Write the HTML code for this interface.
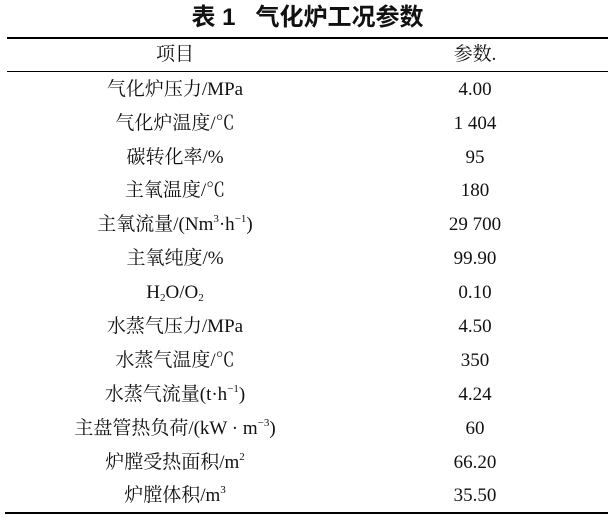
<!DOCTYPE html>
<html><head><meta charset="utf-8"><style>
body{margin:0;width:615px;height:523px;background:#fff;position:relative;font-family:"Liberation Serif","Noto Serif CJK SC","Noto Sans CJK SC",serif;color:#111;overflow:hidden}
.t{position:absolute;left:0;width:615px;top:3px;text-align:center;font:bold 24px "Liberation Sans","Noto Sans CJK SC",sans-serif;line-height:30px}
.l{position:absolute;left:7px;width:601px;background:#000}
.r{position:absolute;left:0;width:615px;height:24px;font-size:19px;line-height:24px}
.a{position:absolute;left:25px;width:300px;text-align:center;white-space:nowrap}
.b{position:absolute;left:400px;width:150px;text-align:center;white-space:nowrap}
sup{font-size:11px;vertical-align:8px;line-height:0}
sub{font-size:11px;vertical-align:-3px;line-height:0}
</style></head><body>
<div class="t">表 1&nbsp;&nbsp;&nbsp;气化炉工况参数</div>
<div class="l" style="top:37px;height:2px"></div>
<div class="l" style="top:71px;height:1px"></div>
<div class="l" style="top:512px;height:2px;left:5px;width:603px"></div>
<div class="r" style="top:43px"><div class="a">项目</div><div class="b">参数.</div></div>
<div class="r" style="top:78px"><div class="a">气化炉压力/MPa</div><div class="b">4.00</div></div>
<div class="r" style="top:112px"><div class="a">气化炉温度/℃</div><div class="b">1 404</div></div>
<div class="r" style="top:146px"><div class="a">碳转化率/%</div><div class="b">95</div></div>
<div class="r" style="top:179px"><div class="a">主氧温度/℃</div><div class="b">180</div></div>
<div class="r" style="top:213px"><div class="a">主氧流量/(Nm<sup>3</sup>·h<sup>−1</sup>)</div><div class="b">29 700</div></div>
<div class="r" style="top:247px"><div class="a">主氧纯度/%</div><div class="b">99.90</div></div>
<div class="r" style="top:281px"><div class="a">H<sub>2</sub>O/O<sub>2</sub></div><div class="b">0.10</div></div>
<div class="r" style="top:315px"><div class="a">水蒸气压力/MPa</div><div class="b">4.50</div></div>
<div class="r" style="top:349px"><div class="a">水蒸气温度/℃</div><div class="b">350</div></div>
<div class="r" style="top:383px"><div class="a">水蒸气流量(t·h<sup>−1</sup>)</div><div class="b">4.24</div></div>
<div class="r" style="top:417px"><div class="a">主盘管热负荷/(kW · m<sup>−3</sup>)</div><div class="b">60</div></div>
<div class="r" style="top:451px"><div class="a">炉膛受热面积/m<sup>2</sup></div><div class="b">66.20</div></div>
<div class="r" style="top:484px"><div class="a">炉膛体积/m<sup>3</sup></div><div class="b">35.50</div></div>
</body></html>
